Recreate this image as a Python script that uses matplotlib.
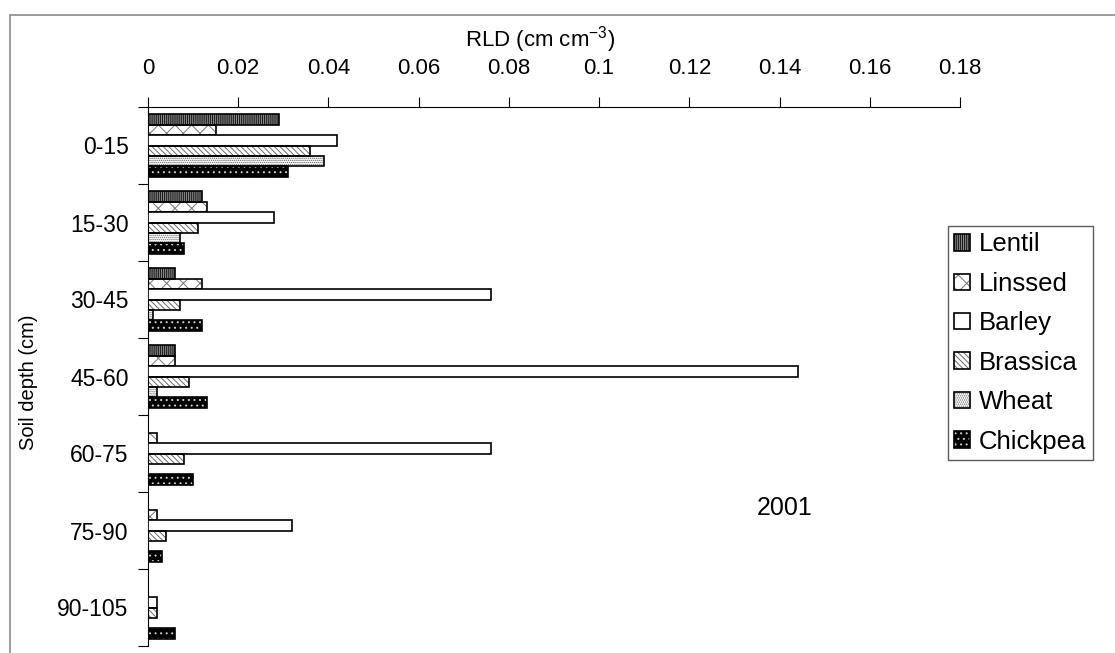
import matplotlib
matplotlib.use('Agg')
import matplotlib.pyplot as plt
from matplotlib.patches import Rectangle, Patch
import numpy as np

plt.rcParams['font.family'] = ['Liberation Sans', 'DejaVu Sans']
plt.rcParams['mathtext.fontset'] = 'custom'
plt.rcParams['mathtext.rm'] = 'Liberation Sans'
plt.rcParams['mathtext.default'] = 'regular'
plt.rcParams['hatch.linewidth'] = 0.7

# Root length density by soil depth, 2001
depths = ['0-15', '15-30', '30-45', '45-60', '60-75', '75-90', '90-105']
crops = ['Lentil', 'Linssed', 'Barley', 'Brassica', 'Wheat', 'Chickpea']
lentil = [0.029, 0.012, 0.006, 0.006, 0.0, 0.0, 0.0]
linseed = [0.015, 0.013, 0.012, 0.006, 0.002, 0.002, 0.0]
barley = [0.042, 0.028, 0.076, 0.144, 0.076, 0.032, 0.002]
brassica = [0.036, 0.011, 0.007, 0.009, 0.008, 0.004, 0.002]
wheat = [0.039, 0.007, 0.001, 0.002, 0.0, 0.0, 0.0]
chickpea = [0.031, 0.008, 0.012, 0.013, 0.010, 0.003, 0.006]
series = [lentil, linseed, barley, brassica, wheat, chickpea]

x_ticks = [0, 0.02, 0.04, 0.06, 0.08, 0.1, 0.12, 0.14, 0.16, 0.18]
x_tick_labels = ['0', '0.02', '0.04', '0.06', '0.08', '0.1', '0.12', '0.14', '0.16', '0.18']

# fill colour, hatch pattern, hatch colour for each crop
styles = [
    ('#1a1a1a', '||||||||', '#8f8f8f'),
    ('white', 'xx', '#777777'),
    ('white', None, None),
    ('white', '\\\\\\\\\\\\', '#6a6a6a'),
    ('white', '........', '#6a6a6a'),
    ('black', '...', '#d0d0d0'),
]

W, H = 1115, 653
fig = plt.figure(figsize=(W / 100, H / 100), dpi=100)
ax = fig.add_axes([148 / W, 1 - 646 / H, (960 - 148) / W, (646 - 107) / H])

n = len(crops)
bar_h = 0.136
centres = np.arange(len(depths)) + 0.5
outline_lw = 1.2

legend_handles = []
for i, (vals, (face, hatch, hc)) in enumerate(zip(series, styles)):
    vals = np.asarray(vals)
    y = centres + (i - (n - 1) / 2) * bar_h
    keep = vals > 0
    if hatch:
        ax.barh(y[keep], vals[keep], height=bar_h, color=face, edgecolor=hc,
                linewidth=0, hatch=hatch, zorder=2)
        ax.barh(y[keep], vals[keep], height=bar_h, fill=False,
                edgecolor='black', linewidth=outline_lw, zorder=3)
        legend_handles.append((Patch(facecolor=face, edgecolor=hc, hatch=hatch, linewidth=0),
                               Patch(fill=False, edgecolor='black', linewidth=outline_lw)))
    else:
        ax.barh(y[keep], vals[keep], height=bar_h, color=face,
                edgecolor='black', linewidth=outline_lw, zorder=3)
        legend_handles.append(Patch(facecolor=face, edgecolor='black', linewidth=outline_lw))

ax.set_xlim(0, 0.18)
ax.set_ylim(len(depths), 0)

ax.xaxis.tick_top()
ax.set_xticks(x_ticks)
ax.set_xticklabels(x_tick_labels)
ax.tick_params(axis='x', which='major', direction='out', length=7, width=0.8,
               pad=13, labelsize=16, top=True, bottom=False)

ax.set_yticks(centres)
ax.set_yticklabels(depths)
ax.set_yticks(np.arange(len(depths) + 1), minor=True)
ax.tick_params(axis='y', which='major', length=0, pad=14, labelsize=16.5)
ax.tick_params(axis='y', which='minor', direction='out', length=7, width=0.8)

for side in ('right', 'bottom'):
    ax.spines[side].set_visible(False)
for side in ('top', 'left'):
    ax.spines[side].set_linewidth(0.8)

fig.text(540 / W, 1 - 40 / H, 'RLD (cm cm$^{-3}$)', ha='center', va='center', fontsize=16)
fig.text(28 / W, 1 - 382 / H, 'Soil depth (cm)', ha='center', va='center',
         rotation=90, fontsize=14.5)
fig.text(785 / W, 1 - 508 / H, '2001', ha='center', va='center', fontsize=18)

leg = fig.legend(legend_handles, crops, loc='upper left',
                 bbox_to_anchor=(948 / W, 1 - 226 / H), fontsize=18.5,
                 handlelength=0.6, handleheight=0.6, handletextpad=0.35,
                 labelspacing=0.6, borderpad=0.25, borderaxespad=0,
                 fancybox=False, frameon=True)
leg.get_frame().set_edgecolor('#333333')
leg.get_frame().set_linewidth(1.0)

# outer chart border
fig.patches.append(Rectangle((10 / W, -0.05), 1.2, (H - 15) / H + 0.05,
                             transform=fig.transFigure, fill=False,
                             edgecolor='#8a8a8a', linewidth=1.2))

fig.savefig('out.png', dpi=100)
